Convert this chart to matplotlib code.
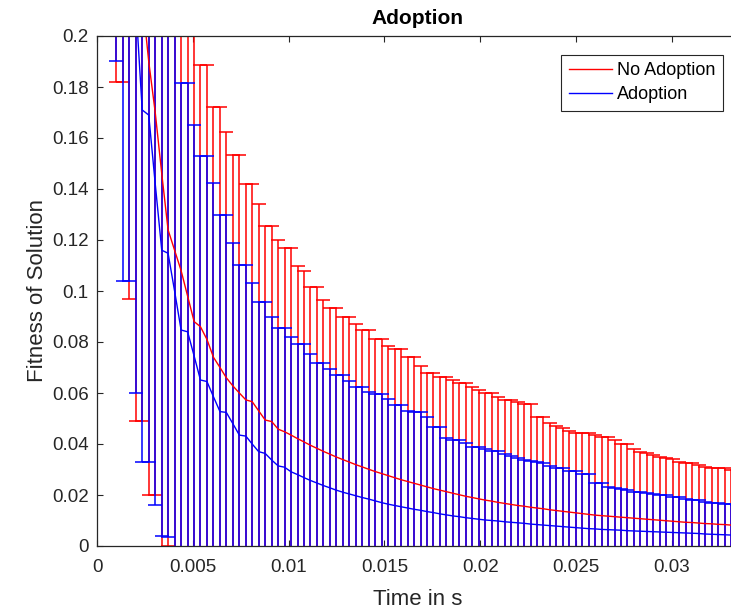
import numpy as np
import matplotlib.pyplot as plt
from matplotlib.lines import Line2D

plt.rcParams['font.family'] = ['Liberation Sans', 'DejaVu Sans']

# time of each iteration (s), shared by both runs
time_s = [0.00101, 0.00135, 0.00169, 0.00203, 0.00236, 0.00270, 0.00304, 0.00338, 0.00371, 0.00405,
          0.00439, 0.00473, 0.00507, 0.00540, 0.00574, 0.00608, 0.00642, 0.00675, 0.00709, 0.00743,
          0.00777, 0.00810, 0.00844, 0.00878, 0.00912, 0.00946, 0.00979, 0.01013, 0.01047, 0.01081,
          0.01114, 0.01148, 0.01182, 0.01216, 0.01249, 0.01283, 0.01317, 0.01351, 0.01385, 0.01418,
          0.01452, 0.01486, 0.01520, 0.01553, 0.01587, 0.01621, 0.01655, 0.01689, 0.01722, 0.01756,
          0.01790, 0.01824, 0.01857, 0.01891, 0.01925, 0.01959, 0.01992, 0.02026, 0.02060, 0.02094,
          0.02128, 0.02161, 0.02195, 0.02229, 0.02263, 0.02296, 0.02330, 0.02364, 0.02398, 0.02431,
          0.02465, 0.02499, 0.02533, 0.02567, 0.02600, 0.02634, 0.02668, 0.02702, 0.02735, 0.02769,
          0.02803, 0.02837, 0.02870, 0.02904, 0.02938, 0.02972, 0.03006, 0.03039, 0.03073, 0.03107,
          0.03141, 0.03174, 0.03208, 0.03242, 0.03276, 0.03309, 0.03343]

# No Adoption: mean fitness and top of error bar
noadopt_mean = [0.360, 0.355, 0.290, 0.240, 0.215, 0.190, 0.170, 0.146, 0.124, 0.116,
                0.108, 0.098, 0.088, 0.086, 0.081, 0.074, 0.070, 0.066, 0.0628, 0.0600,
                0.0573, 0.0566, 0.0530, 0.0494, 0.0488, 0.0458, 0.0448, 0.0435, 0.0421, 0.0408,
                0.0395, 0.0383, 0.0371, 0.0360, 0.0349, 0.0339, 0.0329, 0.0319, 0.0310, 0.0301,
                0.0292, 0.0284, 0.0276, 0.0268, 0.0260, 0.0253, 0.0246, 0.0239, 0.0232, 0.0225,
                0.0219, 0.0213, 0.0207, 0.0201, 0.0195, 0.0190, 0.0185, 0.0180, 0.0176, 0.0171,
                0.0167, 0.0163, 0.0159, 0.0156, 0.0152, 0.0149, 0.0146, 0.0142, 0.0139, 0.0136,
                0.0133, 0.0130, 0.0127, 0.0124, 0.0121, 0.0119, 0.0117, 0.0115, 0.0113, 0.0111,
                0.0109, 0.0107, 0.0105, 0.0103, 0.0101, 0.0099, 0.0097, 0.0095, 0.0093, 0.0092,
                0.0090, 0.0088, 0.0087, 0.0085, 0.0084, 0.0082, 0.0081]
noadopt_upper = [0.538, 0.528, 0.483, 0.431, 0.381, 0.360, 0.320, 0.294, 0.248, 0.240,
                 0.225, 0.212, 0.204, 0.1886, 0.1886, 0.172, 0.172, 0.1623, 0.1533, 0.1533,
                 0.1418, 0.1418, 0.134, 0.1255, 0.1255, 0.120, 0.117, 0.117, 0.110, 0.108,
                 0.1015, 0.1015, 0.0965, 0.0935, 0.0935, 0.090, 0.090, 0.087, 0.0847, 0.0847,
                 0.0812, 0.0812, 0.0786, 0.0771, 0.0771, 0.0742, 0.0742, 0.0707, 0.0677, 0.0677,
                 0.0664, 0.0664, 0.0651, 0.0638, 0.0638, 0.0625, 0.0612, 0.0599, 0.0599, 0.0586,
                 0.0573, 0.0573, 0.0565, 0.0557, 0.0557, 0.0507, 0.0507, 0.0484, 0.0470, 0.0461,
                 0.0452, 0.0444, 0.0444, 0.0444, 0.0435, 0.0429, 0.0429, 0.0416, 0.0400, 0.0400,
                 0.0380, 0.0367, 0.0364, 0.0357, 0.0348, 0.0344, 0.0340, 0.0331, 0.0324, 0.0324,
                 0.0318, 0.0311, 0.0305, 0.0305, 0.0305, 0.0300, 0.0298]

# Adoption
adopt_mean = [0.340, 0.262, 0.258, 0.212, 0.171, 0.169, 0.142, 0.116, 0.1148, 0.100,
              0.0847, 0.0840, 0.0745, 0.0651, 0.0645, 0.0585, 0.0527, 0.0524, 0.0480, 0.0435,
              0.0431, 0.0400, 0.0370, 0.0363, 0.0337, 0.0314, 0.0309, 0.0291, 0.0280, 0.0268,
              0.0257, 0.0247, 0.0237, 0.0228, 0.0219, 0.0211, 0.0204, 0.0197, 0.0190, 0.0184,
              0.0177, 0.0170, 0.0164, 0.0159, 0.0154, 0.0149, 0.0144, 0.0140, 0.0135, 0.0131,
              0.0126, 0.0122, 0.0118, 0.0115, 0.0111, 0.0108, 0.0105, 0.0102, 0.0100, 0.0098,
              0.0095, 0.0093, 0.0091, 0.0089, 0.0086, 0.0084, 0.0082, 0.0080, 0.0078, 0.0076,
              0.0074, 0.0072, 0.0070, 0.0068, 0.0067, 0.0065, 0.0064, 0.0063, 0.0062, 0.0060,
              0.0059, 0.0058, 0.0057, 0.0056, 0.0055, 0.0054, 0.0053, 0.0052, 0.0051, 0.0050,
              0.0049, 0.0047, 0.0046, 0.0045, 0.0044, 0.0043, 0.0042]
adopt_upper = [0.490, 0.420, 0.412, 0.364, 0.309, 0.305, 0.268, 0.228, 0.226, 0.210,
               0.1817, 0.1817, 0.165, 0.153, 0.153, 0.1422, 0.130, 0.130, 0.1187, 0.1102,
               0.1102, 0.1033, 0.0958, 0.0958, 0.0899, 0.0854, 0.0854, 0.0818, 0.0792, 0.0792,
               0.0753, 0.0716, 0.0716, 0.0694, 0.0671, 0.0671, 0.0647, 0.0625, 0.0625, 0.0605,
               0.0595, 0.0595, 0.0575, 0.0553, 0.0553, 0.0531, 0.0524, 0.0524, 0.0507, 0.0465,
               0.0465, 0.0425, 0.0416, 0.0416, 0.0403, 0.0390, 0.0390, 0.0380, 0.0372, 0.0372,
               0.0360, 0.0352, 0.0345, 0.0338, 0.0332, 0.0330, 0.0325, 0.0314, 0.0305, 0.0305,
               0.0294, 0.0294, 0.0282, 0.0282, 0.0246, 0.0246, 0.0230, 0.0226, 0.0222, 0.0220,
               0.0213, 0.0213, 0.0209, 0.0205, 0.0200, 0.0200, 0.0191, 0.0191, 0.0185, 0.0180,
               0.0180, 0.0172, 0.0167, 0.0167, 0.0165, 0.0165, 0.0162]

x_ticks = [0, 0.005, 0.01, 0.015, 0.02, 0.025, 0.03]
x_tick_labels = ['0', '0.005', '0.01', '0.015', '0.02', '0.025', '0.03']
y_ticks = [0, 0.02, 0.04, 0.06, 0.08, 0.1, 0.12, 0.14, 0.16, 0.18, 0.2]
y_tick_labels = ['0', '0.02', '0.04', '0.06', '0.08', '0.1', '0.12', '0.14', '0.16', '0.18', '0.2']

t = np.array(time_s)
na_m = np.array(noadopt_mean)
na_e = np.array(noadopt_upper) - na_m
ad_m = np.array(adopt_mean)
ad_e = np.array(adopt_upper) - ad_m

fig = plt.figure(figsize=(7.31, 6.11), dpi=100)
# axes runs past the right edge, like the cropped screenshot
ax = fig.add_axes([97/731, 65/611, 641/731, 510/611])

ax.errorbar(t, na_m, yerr=na_e, color='#ff0000', lw=1.0, elinewidth=1.1,
            capsize=4.7, capthick=1.1)
ax.errorbar(t, ad_m, yerr=ad_e, color='#0000ff', lw=1.0, elinewidth=1.1,
            capsize=4.7, capthick=1.1)

ax.set_xlim(0, 0.03346)
ax.set_ylim(0, 0.2)
ax.set_xticks(x_ticks)
ax.set_xticklabels(x_tick_labels)
ax.set_yticks(y_ticks)
ax.set_yticklabels(y_tick_labels)
ax.tick_params(direction='in', top=True, right=True, length=4, width=0.8,
               labelsize=13.5, colors='#262626')
ax.tick_params(axis='x', pad=9.5)
ax.tick_params(axis='y', pad=6)
for s in ax.spines.values():
    s.set_color('#262626')
    s.set_linewidth(0.9)

ax.set_title('Adoption', fontsize=15, fontweight='bold', pad=9)
ax.set_xlabel('Time in s', fontsize=16, color='#262626', labelpad=9)
ax.set_ylabel('Fitness of Solution', fontsize=16, color='#262626', labelpad=3)

handles = [Line2D([], [], color='#ff0000', lw=1.0), Line2D([], [], color='#0000ff', lw=1.0)]
leg = ax.legend(handles, ['No Adoption', 'Adoption'], loc='upper right',
                bbox_to_anchor=(723/731, 1 - 55/611), bbox_transform=fig.transFigure,
                borderaxespad=0, fontsize=13, fancybox=False, framealpha=1,
                edgecolor='#262626', handlelength=2.4, handletextpad=0.3,
                labelspacing=0.4, borderpad=0.4)
leg.get_frame().set_linewidth(0.8)

fig.savefig('out.png', dpi=100)
